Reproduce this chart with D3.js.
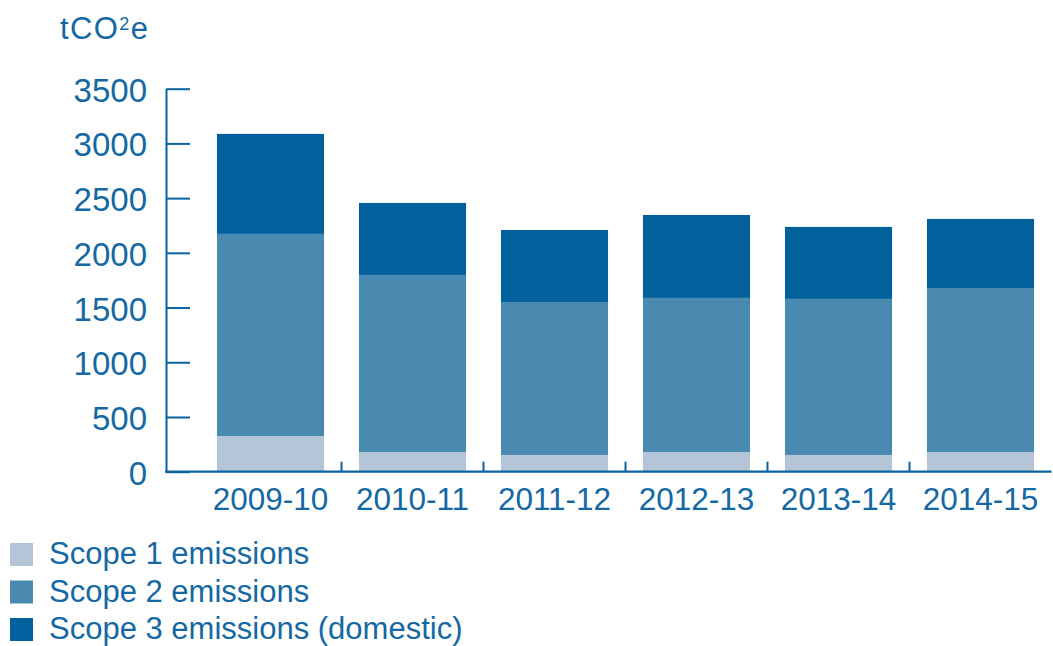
<!DOCTYPE html>
<html>
<head>
<meta charset="utf-8">
<script src="https://cdn.jsdelivr.net/npm/d3@7"></script>
<style>
  html, body { margin: 0; padding: 0; background: #fff; }
  svg { display: block; font-family: "Liberation Sans", Arial, Helvetica, sans-serif; }
</style>
</head>
<body>
<svg id="chart" width="1053" height="646"></svg>
<script>
// Emissions by financial year, stacked by scope (tCO2e)
const years = ["2009-10", "2010-11", "2011-12", "2012-13", "2013-14", "2014-15"];
const scope1 = [326, 180, 153, 180, 153, 180];
const scope2 = [1847, 1618, 1398, 1408, 1426, 1499];
const scope3 = [914, 658, 658, 758, 658, 631];
const yTicks = [0, 500, 1000, 1500, 2000, 2500, 3000, 3500];
const seriesNames = ["Scope 1 emissions", "Scope 2 emissions", "Scope 3 emissions (domestic)"];
const seriesColors = ["#b3c5d7", "#4a8ab0", "#02619c"];

const textColor = "#1568a2";
const axisColor = "#0a639e";

const svg = d3.select("#chart");

const rows = years.map((yr, i) => ({ year: yr, s1: scope1[i], s2: scope2[i], s3: scope3[i] }));
const keys = ["s1", "s2", "s3"];
const stacked = d3.stack().keys(keys)(rows);

const axisX0 = 166;
const x = d3.scaleBand().domain(years).range([199.5, 1051.5])
  .paddingInner(0.246).paddingOuter(0.123);
const y = d3.scaleLinear().domain([0, 3500]).range([471.7, 88.7]);
const color = d3.scaleOrdinal().domain(keys).range(seriesColors);

// Stacked bars
svg.append("g").selectAll("g").data(stacked).join("g")
  .attr("fill", d => color(d.key))
  .selectAll("rect").data(d => d).join("rect")
  .attr("x", d => x(d.data.year))
  .attr("width", x.bandwidth())
  .attr("y", d => y(d[1]))
  .attr("height", d => y(d[0]) - y(d[1]));

// Y axis: ticks point inward toward the bars
const yAxis = svg.append("g").attr("transform", `translate(${axisX0},0)`)
  .call(d3.axisLeft(y).tickValues(yTicks).tickFormat(d3.format("d"))
    .tickSizeInner(-24).tickSizeOuter(0).tickPadding(19));
yAxis.select(".domain").attr("stroke", axisColor).attr("stroke-width", 2);
yAxis.selectAll(".tick line").attr("stroke", axisColor).attr("stroke-width", 2);
yAxis.selectAll(".tick text").attr("fill", textColor).attr("font-size", 33).attr("dy", "0.38em");

// X axis labels
const xAxis = svg.append("g").attr("transform", `translate(0,${y(0)})`)
  .call(d3.axisBottom(x).tickSize(0).tickPadding(16));
xAxis.select(".domain").remove();
xAxis.selectAll(".tick text").attr("fill", textColor).attr("font-size", 31.5);

// X axis baseline and separator ticks between categories
svg.append("line")
  .attr("x1", axisX0 - 1).attr("x2", x.range()[1])
  .attr("y1", y(0)).attr("y2", y(0))
  .attr("stroke", axisColor).attr("stroke-width", 2.2);
const gap = x.step() - x.bandwidth();
svg.append("g").selectAll("line").data(years.slice(0, -1)).join("line")
  .attr("x1", d => x(d) + x.bandwidth() + gap / 2)
  .attr("x2", d => x(d) + x.bandwidth() + gap / 2)
  .attr("y1", y(0)).attr("y2", y(0) - 10)
  .attr("stroke", axisColor).attr("stroke-width", 2);

// Unit label
const unit = svg.append("text").attr("x", 60).attr("y", 38.5)
  .attr("fill", textColor).attr("font-size", 31).attr("letter-spacing", 1.4);
unit.append("tspan").text("tCO");
unit.append("tspan").attr("font-size", 18).attr("dy", -9).text("2");
unit.append("tspan").attr("dy", 9).text("e");

// Legend
const legend = svg.append("g").selectAll("g").data(seriesNames).join("g")
  .attr("transform", (d, i) => `translate(10,${543 + i * 37.5})`);
legend.append("rect").attr("width", 23).attr("height", 23)
  .attr("fill", (d, i) => seriesColors[i]);
legend.append("text").attr("x", 39).attr("y", 21)
  .attr("fill", textColor).attr("font-size", 31)
  .text(d => d);
</script>
</body>
</html>
